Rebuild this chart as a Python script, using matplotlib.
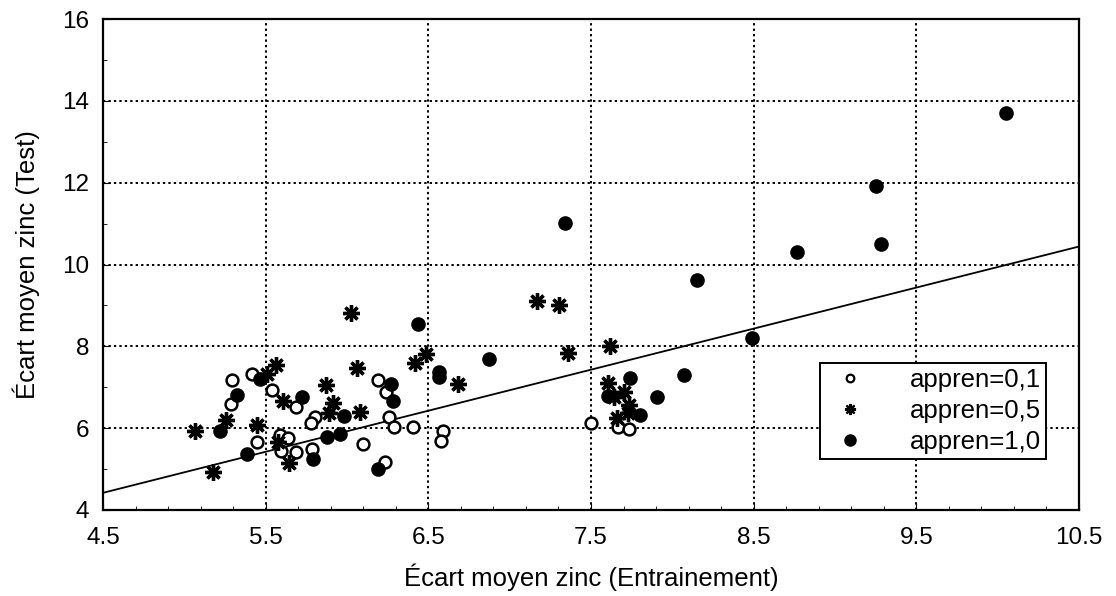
import numpy as np
import matplotlib
matplotlib.use("Agg")
import matplotlib.pyplot as plt
from matplotlib.lines import Line2D


# data
# appren = 0,1  (open circles)
x_01 = [5.295, 5.285, 5.418, 5.537, 5.448, 5.588, 5.635, 5.592, 5.684, 5.686,
        5.786, 5.803, 5.777, 6.188, 6.238, 6.258, 6.291, 6.404, 6.588, 6.576,
        6.100, 6.233, 7.499, 7.667, 7.735]
y_01 = [7.17, 6.60, 7.33, 6.94, 5.65, 5.83, 5.76, 5.45, 5.41, 6.52,
        5.50, 6.28, 6.13, 7.17, 6.89, 6.28, 6.02, 6.02, 5.93, 5.69,
        5.61, 5.18, 6.13, 6.02, 5.99]

# appren = 0,5  (asterisks)
x_05 = [5.065, 5.174, 5.256, 5.448, 5.506, 5.561, 5.608, 5.578, 5.645, 5.869,
        5.912, 5.891, 6.059, 6.083, 6.022, 6.418, 6.483, 6.684, 7.169, 7.303,
        7.360, 7.620, 7.602, 7.702, 7.641, 7.735, 7.725, 7.663]
y_05 = [5.93, 4.92, 6.20, 6.07, 7.33, 7.54, 6.66, 5.67, 5.15, 7.05,
        6.62, 6.37, 7.46, 6.40, 8.81, 7.59, 7.82, 7.07, 9.10, 9.02,
        7.84, 8.01, 7.11, 6.89, 6.76, 6.56, 6.36, 6.24]

# appren = 1,0  (filled circles)
x_10 = [5.219, 5.322, 5.465, 5.383, 5.725, 5.789, 5.875, 5.957, 5.983, 6.192,
        6.270, 6.284, 6.438, 6.567, 6.567, 6.872, 7.340, 7.739, 7.602, 7.903,
        7.800, 8.073, 8.487, 8.149, 8.767, 9.255, 9.282, 10.054]
y_10 = [5.93, 6.82, 7.21, 5.37, 6.76, 5.25, 5.79, 5.85, 6.30, 4.99,
        7.07, 6.66, 8.54, 7.37, 7.24, 7.68, 11.02, 7.23, 6.79, 6.76,
        6.32, 7.31, 8.20, 9.61, 10.30, 11.93, 10.49, 13.70]

# fitted line (end points)
fit_x = [4.5, 10.5]
fit_y = [4.42, 10.44]

labels = ["appren=0,1", "appren=0,5", "appren=1,0"]
x_ticks = [4.5, 5.5, 6.5, 7.5, 8.5, 9.5, 10.5]
y_ticks = [4, 6, 8, 10, 12, 14, 16]


plt.rcParams['font.family'] = ['Liberation Sans', 'DejaVu Sans']

fig = plt.figure(figsize=(11.16, 5.96), dpi=100)
ax = fig.add_axes([0.0923, 0.1443, 0.8745, 0.8237])

ax.plot(x_01, y_01, linestyle='none', marker='o', markersize=8.5,
        markerfacecolor='white', markeredgecolor='black', markeredgewidth=1.8,
        zorder=3)
ax.plot(x_05, y_05, linestyle='none', marker=(8, 2, 0), markersize=12,
        color='black', markeredgewidth=2.4, zorder=3)
ax.plot(x_10, y_10, linestyle='none', marker='o', markersize=9.5,
        color='black', zorder=3)

ax.plot(fit_x, fit_y, color='black', linewidth=1.3, zorder=2)

ax.set_xlim(4.5, 10.5)
ax.set_ylim(4, 16)
ax.set_xticks(x_ticks)
ax.set_xticklabels([str(t) for t in x_ticks])
ax.set_xticks(np.arange(4.7, 10.5, 0.2), minor=True)
ax.set_yticks(y_ticks)
ax.set_yticks(np.arange(5, 16, 2), minor=True)
ax.tick_params(which='both', direction='in', labelsize=17.5, color='black')
ax.tick_params(which='major', length=5)
ax.tick_params(which='minor', length=3)
ax.tick_params(axis='x', pad=12)
ax.tick_params(axis='y', pad=10)
ax.grid(True, which='major', linestyle=(0, (1.2, 1.6)), color='black', linewidth=1.4)

for s in ax.spines.values():
    s.set_linewidth(1.6)

ax.set_xlabel("Écart moyen zinc (Entrainement)", fontsize=18.5, labelpad=11)
ax.set_ylabel("Écart moyen zinc (Test)", fontsize=18.5, labelpad=16)

# legend handles drawn smaller than the plot markers, as in the original
handles = [
    Line2D([], [], linestyle='none', marker='o', markersize=5.5,
           markerfacecolor='white', markeredgecolor='black', markeredgewidth=1.6),
    Line2D([], [], linestyle='none', marker=(8, 2, 0), markersize=8,
           color='black', markeredgewidth=1.6),
    Line2D([], [], linestyle='none', marker='o', markersize=8, color='black'),
]
leg = ax.legend(handles, labels, loc='lower right', bbox_to_anchor=(0.966, 0.103),
                fontsize=18.5, frameon=True, fancybox=False, framealpha=1,
                edgecolor='black', handletextpad=1.3, borderpad=0.2,
                labelspacing=0.28, handlelength=2.0, borderaxespad=0)
leg.get_frame().set_linewidth(1.4)

fig.savefig("out.png", dpi=100)
